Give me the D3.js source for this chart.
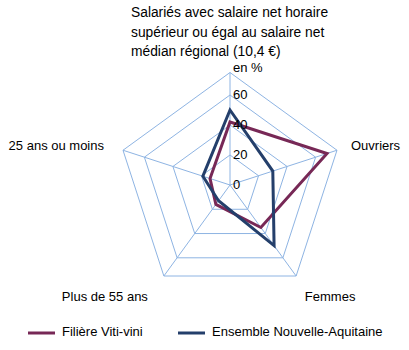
<!DOCTYPE html>
<html>
<head>
<meta charset="utf-8">
<script src="https://cdn.jsdelivr.net/npm/d3@7/dist/d3.min.js"></script>
<style>
  html, body { margin: 0; padding: 0; background: #fff; }
  svg { display: block; font-family: "Liberation Sans", Arial, sans-serif; }
</style>
</head>
<body>
<svg id="chart" width="409" height="350"></svg>
<script>
// Radar axes (clockwise from the top)
const axes = [
  "Salariés avec salaire net horaire supérieur ou égal au salaire net médian régional (10,4 €)",
  "Ouvriers",
  "Femmes",
  "Plus de 55 ans",
  "25 ans ou moins"
];
const titleLines = [
  "Salariés avec salaire net horaire",
  "supérieur ou égal au salaire net",
  "médian régional (10,4 €)"
];
const seriesNames = ["Filière Viti-vini", "Ensemble Nouvelle-Aquitaine"];
const vitiVini = [42, 68, 35, 16, 14];
const ensemble = [50, 30, 50, 13, 19];
const ringValues = [20, 40, 60, 75];
const tickValues = [0, 20, 40, 60];
const tickLabels = ["0", "20", "40", "60"];
const unitLabel = "en %";
const maxValue = 75;

const colors = ["#772856", "#243F6B"];
const gridColor = "#8EB4E3";

const svg = d3.select("#chart");
const cx = 230, cy = 185, R = 112.5;

const r = d3.scaleLinear().domain([0, maxValue]).range([0, R]);
const angle = d3.scaleLinear().domain([0, axes.length]).range([0, 2 * Math.PI]);

const pt = (i, v) => {
  const a = angle(i);
  return [cx + r(v) * Math.sin(a), cy - r(v) * Math.cos(a)];
};

// Grid rings
const ringLine = d3.line().curve(d3.curveLinearClosed);
svg.append("g").selectAll("path")
  .data(ringValues)
  .join("path")
  .attr("d", v => ringLine(axes.map((_, i) => pt(i, v))))
  .attr("fill", "none")
  .attr("stroke", gridColor)
  .attr("stroke-width", 1);

// Spokes
svg.append("g").selectAll("line")
  .data(axes)
  .join("line")
  .attr("x1", cx).attr("y1", cy)
  .attr("x2", (_, i) => pt(i, maxValue)[0])
  .attr("y2", (_, i) => pt(i, maxValue)[1])
  .attr("stroke", gridColor)
  .attr("stroke-width", 1);

// Series polygons
const series = [vitiVini, ensemble];
svg.append("g").selectAll("path")
  .data(series)
  .join("path")
  .attr("d", vals => ringLine(vals.map((v, i) => pt(i, v))))
  .attr("fill", "none")
  .attr("stroke", (_, k) => colors[k])
  .attr("stroke-width", 3)
  .attr("stroke-linejoin", "miter");

// Radial tick labels
const tickG = svg.append("g").attr("font-size", 13).attr("fill", "#000");
tickG.selectAll("text")
  .data(tickValues)
  .join("text")
  .attr("x", cx + 3)
  .attr("y", v => cy - r(v) + 1)
  .attr("dominant-baseline", "middle")
  .text((_, i) => tickLabels[i]);
tickG.append("text")
  .attr("x", cx + 3)
  .attr("y", cy - r(maxValue) - 4)
  .attr("dominant-baseline", "middle")
  .text(unitLabel);

// Category labels
const labelG = svg.append("g").attr("font-size", 13).attr("fill", "#000");
labelG.append("text")
  .attr("font-size", 13.8)
  .selectAll("tspan")
  .data(titleLines)
  .join("tspan")
  .attr("x", 131)
  .attr("y", (_, i) => 17 + i * 19.5)
  .text(d => d);

const labelPlacement = [
  null,
  { dx: 14, dy: -4, anchor: "start" },
  { dx: 34, dy: 22, anchor: "middle" },
  { dx: -59, dy: 22, anchor: "middle" },
  { dx: -19, dy: -4, anchor: "end" }
];
labelG.selectAll("text.cat")
  .data(axes.slice(1))
  .join("text")
  .attr("class", "cat")
  .attr("x", (_, j) => pt(j + 1, maxValue)[0] + labelPlacement[j + 1].dx)
  .attr("y", (_, j) => pt(j + 1, maxValue)[1] + labelPlacement[j + 1].dy)
  .attr("dominant-baseline", "middle")
  .attr("text-anchor", (_, j) => labelPlacement[j + 1].anchor)
  .text(d => d);

// Legend
const legendX = [28, 178];
const legend = svg.append("g").attr("font-size", 13);
const item = legend.selectAll("g")
  .data(seriesNames)
  .join("g")
  .attr("transform", (_, k) => `translate(${legendX[k]},333)`);
item.append("line")
  .attr("x1", 0).attr("x2", 27)
  .attr("stroke", (_, k) => colors[k])
  .attr("stroke-width", 3);
item.append("text")
  .attr("x", 34)
  .attr("dominant-baseline", "middle")
  .attr("fill", "#000")
  .text(d => d);
</script>
</body>
</html>
